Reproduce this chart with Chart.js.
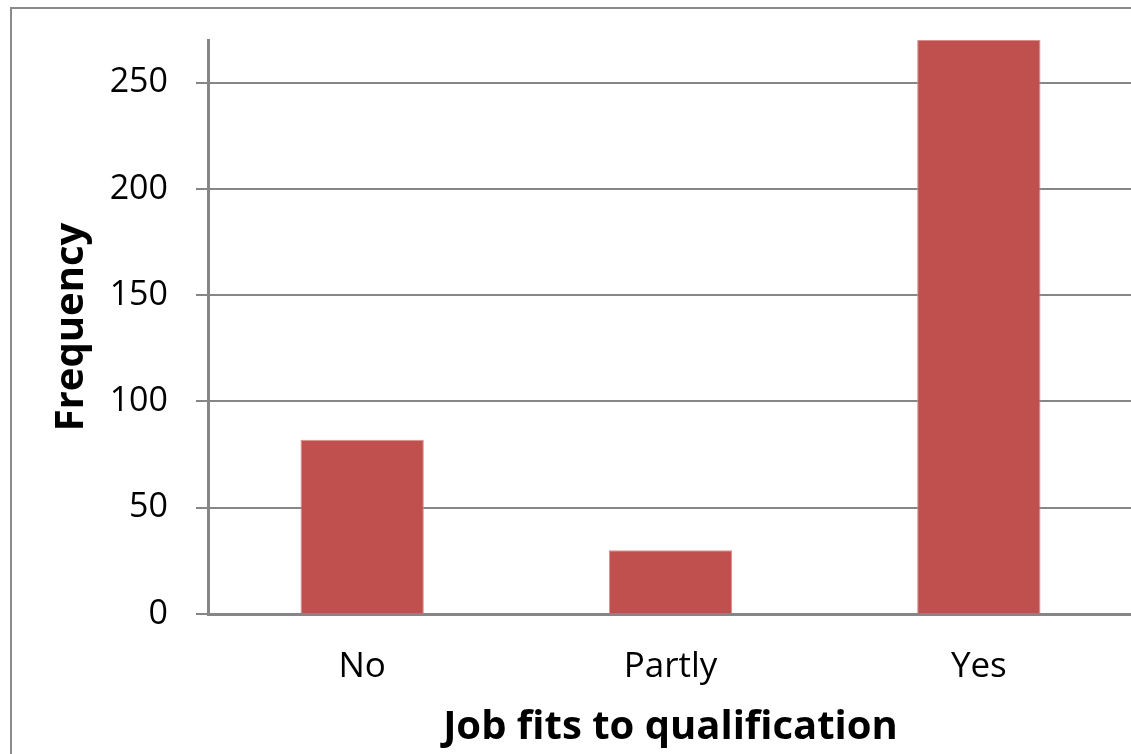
<!DOCTYPE html>
<html>
<head>
<meta charset="utf-8">
<script src="https://cdn.jsdelivr.net/npm/chart.js@4/dist/chart.umd.min.js"></script>
<style>
  html, body { margin: 0; padding: 0; background: #fff; overflow: hidden; }
  #wrap { position: absolute; left: 0; top: 0; width: 1140px; height: 754px; }
</style>
</head>
<body>
<div id="wrap"><canvas id="chart"></canvas></div>
<script>
// Job fit survey: answer counts
const categories = ['No', 'Partly', 'Yes'];
const frequency  = [82, 30, 270];
const yTicks     = [0, 50, 100, 150, 200, 250];
const yMax       = 270;

const AXIS_GREY = '#868686';
const BAR_RED   = '#C0504D';
const FONT      = '"Open Sans", "Noto Sans", sans-serif';

// Outer frame of the chart object
const framePlugin = {
  id: 'chartFrame',
  beforeDraw(chart) {
    const ctx = chart.ctx;
    ctx.save();
    ctx.strokeStyle = '#8a8a8a';
    ctx.lineWidth = 2;
    ctx.strokeRect(11, 8, chart.width + 20, chart.height + 20);
    ctx.restore();
  },
};

new Chart(document.getElementById('chart'), {
  type: 'bar',
  data: {
    labels: categories,
    datasets: [{
      label: 'Frequency',
      data: frequency,
      backgroundColor: BAR_RED,
      borderColor: '#d8908e',
      borderWidth: 1,
      barPercentage: 0.4,
      categoryPercentage: 1.0,
    }],
  },
  options: {
    responsive: true,
    maintainAspectRatio: false,
    animation: false,
    layout: { padding: { top: 40, right: 7, left: 0, bottom: 0 } },
    plugins: {
      legend: { display: false },
      tooltip: { enabled: false },
    },
    scales: {
      x: {
        grid: { display: false, drawTicks: false },
        border: { color: AXIS_GREY, width: 3 },
        ticks: {
          color: '#000',
          padding: 32,
          font: { family: FONT, size: 35 },
        },
        title: {
          display: true,
          text: 'Job fits to qualification',
          color: '#000',
          font: { family: FONT, size: 40, weight: 'bold' },
          padding: { top: 0, bottom: 2 },
        },
        afterFit(scale) { scale.height = 140; },
      },
      y: {
        min: 0,
        max: yMax,
        grid: { color: AXIS_GREY, lineWidth: 2, tickLength: 12, drawTicks: true },
        border: { color: AXIS_GREY, width: 3 },
        ticks: {
          stepSize: 50,
          color: '#000',
          padding: 28,
          font: { family: FONT, size: 34 },
        },
        afterBuildTicks(scale) {
          scale.ticks = yTicks.map(v => ({ value: v }));
        },
        title: {
          display: true,
          text: 'Frequency',
          color: '#000',
          font: { family: FONT, size: 40, weight: 'bold' },
          padding: { top: 48, bottom: 0 },
        },
        afterFit(scale) {
          scale.width = 208;
          scale.paddingTop = 0;
          scale.paddingBottom = 0;
        },
      },
    },
  },
  plugins: [framePlugin],
});
</script>
</body>
</html>
